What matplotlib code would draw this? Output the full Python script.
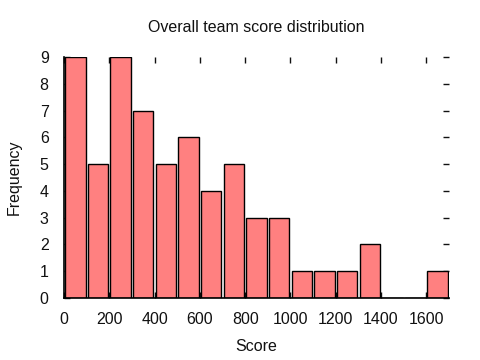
import matplotlib
matplotlib.use("Agg")
import matplotlib.pyplot as plt

bin_starts = [0, 100, 200, 300, 400, 500, 600, 700, 800, 900, 1000, 1100, 1200, 1300, 1400, 1500, 1600]
counts = [9, 5, 9, 7, 5, 6, 4, 5, 3, 3, 1, 1, 1, 2, 0, 0, 1]
xticks = [0, 200, 400, 600, 800, 1000, 1200, 1400, 1600]
yticks = list(range(0, 10))

plt.rcParams['font.family'] = ['Liberation Sans', 'DejaVu Sans']
plt.rcParams['font.size'] = 11.5

fig = plt.figure(figsize=(4.8, 3.6), dpi=100)
ax = fig.add_axes([64/480, 1-298/360, 385/480, 241/360])

centers = [b + 50 for b in bin_starts]
ax.bar(centers, counts, width=90, color='#ff8080', edgecolor='black', linewidth=1.0, zorder=3)

ax.set_xlim(0, 1700)
ax.set_ylim(0, 9)
ax.set_xticks(xticks)
ax.set_yticks(yticks)
ax.tick_params(direction='in', length=4, width=1, top=True, right=True, pad=10, colors='#111111')
ax.tick_params(axis='y', pad=11)
for s in ['top', 'right']:
    ax.spines[s].set_visible(False)
ax.spines['bottom'].set_linewidth(1.2)
ax.spines['left'].set_linewidth(1.2)
ax.spines['bottom'].set_zorder(4)

ax.set_title('Overall team score distribution', pad=18, fontsize=11.5, color='#111111')
ax.set_xlabel('Score', labelpad=9, color='#111111')
ax.set_ylabel('Frequency', labelpad=13, color='#111111')

fig.savefig('out.png', dpi=100)
